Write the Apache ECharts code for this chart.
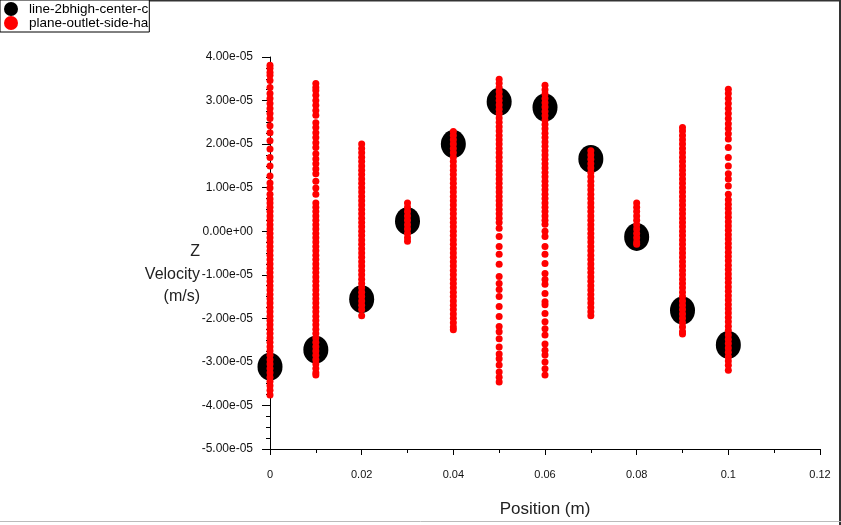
<!DOCTYPE html>
<html>
<head>
<meta charset="utf-8">
<script src="https://cdn.jsdelivr.net/npm/echarts@6/dist/echarts.min.js"></script>
<style>
  html, body { margin: 0; padding: 0; background: #fff; overflow: hidden; }
  #main { width: 841px; height: 525px; }
</style>
</head>
<body>
<div id="main"></div>
<script>
'use strict';

// values are in units of 1e-5 m/s
var SCALE = 1e-5;
var positions = [0, 0.01, 0.02, 0.03, 0.04, 0.05, 0.06, 0.07, 0.08, 0.09, 0.1];

// line-2bhigh-center : one point per position
var centerValues = [-3.11, -2.72, -1.56, 0.23, 2.0, 2.97, 2.84, 1.66, -0.13, -1.82, -2.61];

// plane-outlet-side : a column of points at every position
var sideCol0 = [3.81, 3.74, 3.65, 3.58, 3.46, 3.30, 3.16, 3.05, 2.93, 2.82, 2.70, 2.59, 2.42, 2.26, 2.08, 1.89, 1.69, 1.50, 1.27, 1.11, 0.99, 0.85, 0.74,
  0.65, 0.55, 0.45, 0.35, 0.25, 0.15, 0.05, -0.05, -0.15, -0.25, -0.35, -0.45, -0.55, -0.65, -0.75, -0.85, -0.95, -1.05, -1.15, -1.25, -1.35, -1.45,
  -1.55, -1.65, -1.75, -1.85, -1.95, -2.05, -2.15, -2.25, -2.35, -2.45, -2.55, -2.65, -2.75, -2.85, -2.95, -3.05, -3.15, -3.25, -3.35, -3.45,
  -3.55, -3.65, -3.76];
var sideCol1 = [3.39, 3.30, 3.23, 3.12, 3.00, 2.89, 2.77, 2.66, 2.49, 2.38, 2.26, 2.15, 2.03, 1.92, 1.78, 1.66, 1.55, 1.43, 1.32, 1.15, 0.99, 0.85,
  0.65, 0.55, 0.45, 0.35, 0.25, 0.15, 0.05, -0.05, -0.15, -0.25, -0.35, -0.45, -0.55, -0.65, -0.75, -0.85, -0.95, -1.05, -1.15, -1.25, -1.35, -1.45,
  -1.55, -1.65, -1.75, -1.85, -1.95, -2.05, -2.15, -2.25, -2.35, -2.45, -2.55, -2.65, -2.75, -2.85, -2.95, -3.05, -3.15, -3.25, -3.3];
var sideCol2 = [2.0, 1.9, 1.8, 1.7, 1.6, 1.5, 1.4, 1.3, 1.2, 1.1, 1.0, 0.9, 0.8, 0.7, 0.6, 0.5, 0.4, 0.3, 0.2, 0.1, 0, -0.1, -0.2, -0.3, -0.4,
  -0.5, -0.6, -0.7, -0.8, -0.9, -1.0, -1.1, -1.2, -1.3, -1.4, -1.5, -1.6, -1.7, -1.8, -1.94];
var sideCol3 = [0.65, 0.55, 0.45, 0.35, 0.25, 0.15, 0.05, -0.05, -0.15, -0.23];
var sideCol4 = [2.29, 2.2, 2.1, 2.0, 1.9, 1.8, 1.7, 1.6, 1.5, 1.4, 1.3, 1.2, 1.1, 1.0, 0.9, 0.8, 0.7, 0.6, 0.5, 0.4, 0.3, 0.2, 0.1, 0, -0.1,
  -0.2, -0.3, -0.4, -0.5, -0.6, -0.7, -0.8, -0.9, -1.0, -1.1, -1.2, -1.3, -1.4, -1.5, -1.6, -1.7, -1.8, -1.9, -2.0, -2.1, -2.2, -2.26];
var sideCol5 = [3.49, 3.4, 3.3, 3.2, 3.1, 3.0, 2.9, 2.8, 2.7, 2.6, 2.5, 2.4, 2.3, 2.2, 2.1, 2.0, 1.9, 1.8, 1.7, 1.6, 1.5, 1.4, 1.3, 1.2, 1.1,
  1.0, 0.9, 0.8, 0.7, 0.6, 0.5, 0.4, 0.3, 0.2,
  0.07, -0.12, -0.35, -0.53, -0.76, -1.04, -1.20, -1.34, -1.50, -1.73, -1.96, -2.19, -2.31, -2.47, -2.66, -2.82, -2.93, -3.07, -3.23, -3.35, -3.46];
var sideCol6 = [3.35, 3.25, 3.15, 3.05, 2.95, 2.85, 2.75, 2.65, 2.55, 2.45, 2.35, 2.25, 2.15, 2.05, 1.95, 1.85, 1.75, 1.65, 1.55, 1.45, 1.35,
  1.25, 1.15, 1.05, 0.95, 0.85, 0.75, 0.65, 0.55, 0.45, 0.35, 0.25,
  0.16, 0, -0.12, -0.35, -0.53, -0.74, -0.97, -1.11, -1.22, -1.43, -1.62, -1.69, -1.89, -2.08, -2.24, -2.38, -2.59, -2.73, -2.84, -3.00, -3.16, -3.30];
var sideCol7 = [1.85, 1.75, 1.65, 1.55, 1.45, 1.35, 1.25, 1.15, 1.05, 0.95, 0.85, 0.75, 0.65, 0.55, 0.45, 0.35, 0.25, 0.15, 0.05, -0.05, -0.15,
  -0.25, -0.35, -0.45, -0.55, -0.65, -0.75, -0.85, -0.95, -1.05, -1.15, -1.25, -1.35, -1.45, -1.55, -1.65, -1.75, -1.85, -1.94];
var sideCol8 = [0.65, 0.55, 0.45, 0.35, 0.25, 0.15, 0.05, -0.05, -0.15, -0.25, -0.3];
var sideCol9 = [2.38, 2.3, 2.2, 2.1, 2.0, 1.9, 1.8, 1.7, 1.6, 1.5, 1.4, 1.3, 1.2, 1.1, 1.0, 0.9, 0.8, 0.7, 0.6, 0.5, 0.4, 0.3, 0.2, 0.1, 0,
  -0.1, -0.2, -0.3, -0.4, -0.5, -0.6, -0.7, -0.8, -0.9, -1.0, -1.1, -1.2, -1.3, -1.4, -1.5, -1.6, -1.7, -1.8, -1.9, -2.0, -2.1, -2.2, -2.3, -2.36];
var sideCol10 = [3.26, 3.16, 3.05, 2.93, 2.82, 2.70, 2.59, 2.47, 2.36, 2.24, 2.12, 1.92, 1.69, 1.50, 1.32, 1.20, 1.04, 0.85,
  0.72, 0.62, 0.52, 0.42, 0.32, 0.22, 0.12, 0.02, -0.08, -0.18, -0.28, -0.38, -0.48, -0.58, -0.68, -0.78, -0.88, -0.98, -1.08, -1.18, -1.28,
  -1.38, -1.48, -1.58, -1.68, -1.78, -1.88, -1.98, -2.08, -2.18, -2.28, -2.38, -2.48, -2.58, -2.68, -2.78, -2.88, -2.98, -3.08, -3.19];
var sideCols = [sideCol0, sideCol1, sideCol2, sideCol3, sideCol4, sideCol5, sideCol6, sideCol7, sideCol8, sideCol9, sideCol10];

var yTicks = { min: -5, max: 4, step: 1 };
var xTicks = { min: 0, max: 0.12, step: 0.02 };
var yTitle = ['Z', 'Velocity', '(m/s)'];

var centerData = positions.map(function(x, i) {
  return [x, centerValues[i] * SCALE];
});
var sideData = [];
sideCols.forEach(function(col, i) {
  col.forEach(function(v) {
    sideData.push([positions[i], v * SCALE]);
  });
});

// fluent-like labels: 4.00e-05, 0.00e+00
function sciLabel(v) {
  if (Math.abs(v) < 1e-12) return '0.00e+00';
  var s = v.toExponential(2).split('e');
  var sign = s[1].charAt(0);
  var n = s[1].slice(1);
  if (n.length < 2) n = '0' + n;
  return s[0] + 'e' + sign + n;
}

var font = 'Liberation Sans, Arial, sans-serif';
var chart = echarts.init(document.getElementById('main'));

var titleTexts = yTitle.map(function(t, i) {
  return {
    type: 'text', x: 200, y: 244 + i * 22.5, z: 10,
    style: { text: t, align: 'right', verticalAlign: 'top', fill: '#222', font: '16px ' + font }
  };
});

var option = {
  animation: false,
  backgroundColor: '#fff',
  textStyle: { fontFamily: font },
  grid: { left: 270, right: 21, top: 57, bottom: 76, containLabel: false },
  legend: {
    left: 0, top: 0,
    orient: 'vertical',
    padding: [2, 1, 2, 4],
    itemGap: 0,
    itemWidth: 26,
    itemHeight: 14,
    borderColor: '#000',
    borderWidth: 1,
    backgroundColor: '#fff',
    textStyle: { fontSize: 13.5, color: '#000', fontFamily: font, width: 124, overflow: 'truncate', ellipsis: '' },
    data: [
      { name: 'line-2bhigh-center-c', icon: 'circle' },
      { name: 'plane-outlet-side-ha', icon: 'circle' }
    ]
  },
  xAxis: {
    type: 'value',
    min: xTicks.min, max: xTicks.max, interval: xTicks.step,
    name: 'Position (m)',
    nameLocation: 'middle',
    nameGap: 52,
    nameTextStyle: { fontSize: 17, color: '#222', fontFamily: font },
    axisLine: { onZero: false, lineStyle: { color: '#000', width: 1 } },
    axisTick: { show: true, length: 6, lineStyle: { color: '#000' } },
    minorTick: { show: true, splitNumber: 2, length: 4, lineStyle: { color: '#000' } },
    splitLine: { show: false },
    axisLabel: { fontSize: 11, color: '#111', margin: 20 }
  },
  yAxis: {
    type: 'value',
    min: yTicks.min * SCALE, max: yTicks.max * SCALE, interval: yTicks.step * SCALE,
    axisLine: { show: true, onZero: false, lineStyle: { color: '#000', width: 1 } },
    axisTick: { show: true, length: 8, lineStyle: { color: '#000' } },
    minorTick: { show: true, splitNumber: 4, length: 4, lineStyle: { color: '#000' } },
    splitLine: { show: false },
    axisLabel: { fontSize: 12, color: '#111', margin: 17, formatter: sciLabel }
  },
  graphic: titleTexts.concat([
    { type: 'line', shape: { x1: 0, y1: 0.5, x2: 841, y2: 0.5 }, style: { stroke: '#333', lineWidth: 2 } },
    { type: 'line', shape: { x1: 840, y1: 0, x2: 840, y2: 525 }, style: { stroke: '#333', lineWidth: 2 } },
    { type: 'line', shape: { x1: 0, y1: 521.5, x2: 841, y2: 521.5 }, style: { stroke: '#bbb', lineWidth: 1 } }
  ]),
  series: [
    {
      name: 'line-2bhigh-center-c',
      type: 'scatter',
      symbol: 'circle',
      symbolSize: [25, 28],
      itemStyle: { color: '#000', opacity: 1 },
      z: 2,
      data: centerData
    },
    {
      name: 'plane-outlet-side-ha',
      type: 'scatter',
      symbol: 'circle',
      symbolSize: 7,
      itemStyle: { color: '#f00', opacity: 1 },
      z: 3,
      data: sideData
    }
  ]
};
chart.setOption(option);
</script>
</body>
</html>
